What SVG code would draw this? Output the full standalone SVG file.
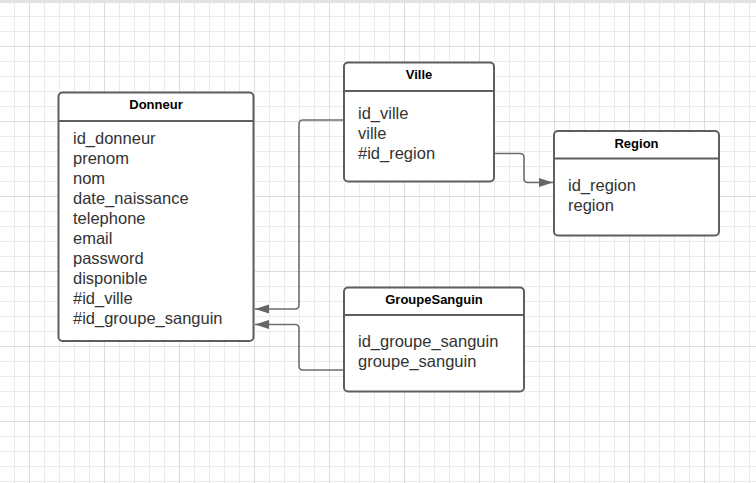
<svg xmlns="http://www.w3.org/2000/svg" width="756" height="483" viewBox="0 0 756 483">
  <defs>
    <pattern id="minor" patternUnits="userSpaceOnUse" x="14" y="1" width="15" height="15">
      <path d="M0.5 0 V15 M0 0.5 H15" stroke="#ebebeb" stroke-width="1" fill="none"/>
    </pattern>
    <pattern id="major" patternUnits="userSpaceOnUse" x="29" y="46" width="75" height="75">
      <path d="M0.5 0 V75 M0 0.5 H75" stroke="#dcdcdc" stroke-width="1" fill="none"/>
    </pattern>
    <marker id="arrow" markerUnits="userSpaceOnUse" markerWidth="15" markerHeight="10" refX="14" refY="4.5" orient="auto">
      <path d="M0,0 L14,4.5 L0,9 z" fill="#666666"/>
    </marker>
  </defs>
  <style>
    .box { fill: #ffffff; stroke: #5f5f5f; stroke-width: 2; }
    .div { stroke: #5f5f5f; stroke-width: 2; }
    .title { font-family: "Liberation Sans", Arial, sans-serif; font-size: 13px; font-weight: bold; fill: #000000; text-anchor: middle; }
    .attr { font-family: "Liberation Sans", Arial, sans-serif; font-size: 16.5px; fill: #333333; }
    .conn { fill: none; stroke: #6e6e6e; stroke-width: 1.6; marker-end: url(#arrow); }
  </style>
  <rect width="756" height="483" fill="#ffffff"/>
  <rect width="756" height="483" fill="url(#minor)"/>
  <rect width="756" height="483" fill="url(#major)"/>
  <rect width="756" height="3" fill="#e2e2e2"/>

  <g id="connectors">
    <path class="conn" d="M344,120 H303 Q299,120 299,124 V305 Q299,309 295,309 H255"/>
    <path class="conn" d="M344,370 H303 Q299,370 299,366 V328.5 Q299,324.5 295,324.5 H255"/>
    <path class="conn" d="M494,153.5 H520 Q524,153.5 524,157.5 V178.5 Q524,182.5 528,182.5 H553"/>
  </g>

  <g id="donneur">
    <rect class="box" x="58.5" y="92.5" width="195" height="248.5" rx="4"/>
    <line class="div" x1="58.5" y1="121" x2="253.5" y2="121"/>
    <text class="title" x="156" y="108.5">Donneur</text>
    <text class="attr" x="73" y="144">id_donneur</text>
    <text class="attr" x="73" y="164">prenom</text>
    <text class="attr" x="73" y="184">nom</text>
    <text class="attr" x="73" y="204">date_naissance</text>
    <text class="attr" x="73" y="224">telephone</text>
    <text class="attr" x="73" y="244">email</text>
    <text class="attr" x="73" y="264">password</text>
    <text class="attr" x="73" y="284">disponible</text>
    <text class="attr" x="73" y="304">#id_ville</text>
    <text class="attr" x="73" y="324">#id_groupe_sanguin</text>
  </g>

  <g id="ville">
    <rect class="box" x="344" y="62.5" width="150" height="119" rx="4"/>
    <line class="div" x1="344" y1="91" x2="494" y2="91"/>
    <text class="title" x="419" y="78.5">Ville</text>
    <text class="attr" x="358" y="119">id_ville</text>
    <text class="attr" x="358" y="139">ville</text>
    <text class="attr" x="358" y="159">#id_region</text>
  </g>

  <g id="region">
    <rect class="box" x="554" y="131" width="165" height="104.5" rx="4"/>
    <line class="div" x1="554" y1="158.5" x2="719" y2="158.5"/>
    <text class="title" x="636.5" y="148">Region</text>
    <text class="attr" x="568" y="191">id_region</text>
    <text class="attr" x="568" y="211">region</text>
  </g>

  <g id="groupesanguin">
    <rect class="box" x="344" y="287.5" width="180" height="104" rx="4"/>
    <line class="div" x1="344" y1="315" x2="524" y2="315"/>
    <text class="title" x="434" y="303.5">GroupeSanguin</text>
    <text class="attr" x="358" y="347">id_groupe_sanguin</text>
    <text class="attr" x="358" y="367">groupe_sanguin</text>
  </g>
</svg>
